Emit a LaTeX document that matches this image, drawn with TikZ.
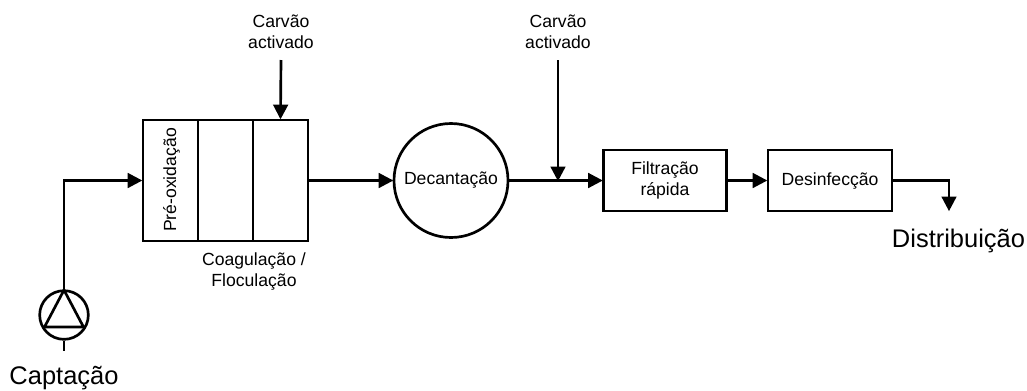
\documentclass[tikz,border=0pt]{standalone}
\usepackage{fontspec}
\setmainfont{Liberation Sans}
\usetikzlibrary{arrows.meta}
\tikzset{
  x=0.75pt,y=-0.75pt,
  ln/.style={line width=2pt,black},
  flow/.style={ln,-{Triangle[length=11pt,width=11pt]},shorten >=-0.5pt},
  plain/.style={ln},
  stage/.style={draw,line width=2pt,inner sep=0pt,align=center,font=\fontsize{13.2pt}{16pt}\selectfont},
  lbl/.style={inner sep=0pt,align=center,font=\fontsize{13.2pt}{16pt}\selectfont},
  biglbl/.style={inner sep=0pt,font=\fontsize{19.1pt}{22pt}\selectfont},
}
\begin{document}
\begin{tikzpicture}
\useasboundingbox (0,0) rectangle (1027,390);
% pump
\node[circle,draw,line width=2pt,minimum size=36.5pt,inner sep=0pt] (pump) at (64,315) {};
\coordinate (apex) at (64,290);
\coordinate (bl) at (44.5,327);
\coordinate (br) at (83.5,327);
\draw[ln,line join=round] (apex) -- (bl) -- (br) -- cycle;
\coordinate (stub) at (64,351);
\draw[plain] (pump.south) -- (stub);
\node[biglbl] (capt) at (64,378) {Captação};
% main tank
\node[stage,minimum width=41.25pt,minimum height=90.75pt] (t1) at (170.5,180.5) {};
\node[stage,minimum width=41.25pt,minimum height=90.75pt] (t2) at (225.5,180.5) {};
\node[stage,minimum width=41.25pt,minimum height=90.75pt] (t3) at (280.5,180.5) {};
\node[lbl,rotate=90] (pre) at (171.5,180) {Pré-oxidação};
\node[lbl] (coag) at (254,271.5) {Coagulação /\\Floculação};
% inlet
\coordinate (elbow) at (64,180.5);
\draw[flow] (pump.north) -- (elbow) -- (t1.west);
% decantation
\node[stage,circle,minimum size=85.5pt] (dec) at (451,180.5) {Decantação};
\draw[flow] (t3.east) -- (dec.west);
% carvao 1
\node[lbl] (c1) at (281,32) {Carvão\\activado};
\draw[flow] (c1.south |- 0,60) -- (t3.north);
% boxes
\node[stage,minimum width=92.25pt,minimum height=45.75pt] (fil) at (665,180.5) {Filtração\\rápida};
\node[stage,minimum width=93pt,minimum height=45.75pt] (des) at (830,180.5) {Desinfecção};
\draw[flow] (dec.east) -- (fil.west);
\draw[flow] (fil.east) -- (des.west);
% carvao 2
\node[lbl] (c2) at (558,32) {Carvão\\activado};
\coordinate (join) at (558,180.5);
\draw[flow] (c2.south |- 0,60) -- (join);
% outlet
\coordinate (oelbow) at (949,180.5);
\coordinate (oend) at (949,210.5);
\draw[flow] (des.east) -- (oelbow) -- (oend);
\node[biglbl] (dist) at (958.5,241) {Distribuição};
\end{tikzpicture}
\end{document}
